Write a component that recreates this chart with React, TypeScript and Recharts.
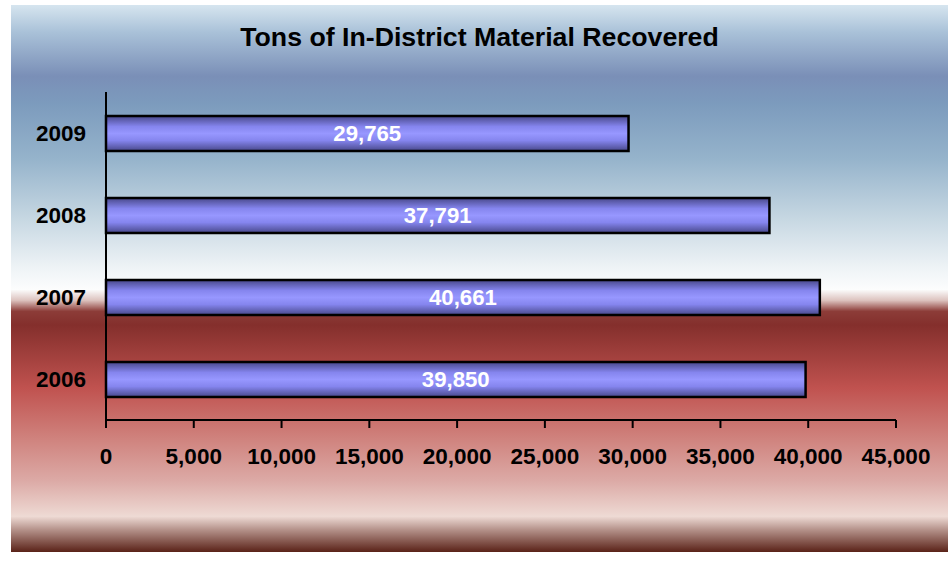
import { BarChart, Bar, XAxis, YAxis, LabelList } from 'recharts';

const years = ['2009', '2008', '2007', '2006'];
const tons = [29765, 37791, 40661, 39850];
const xTicks = [0, 5000, 10000, 15000, 20000, 25000, 30000, 35000, 40000, 45000];

const data = years.map((year, i) => ({ year, tons: tons[i] }));

const FONT = '"Liberation Sans", Arial, sans-serif';

const backdrop =
  'linear-gradient(to bottom, #d6e5ef 0%, #a9c1d8 5%, #7a8fb7 13%, #7c9bbd 18%, #95b3cb 28%, #c6d7e2 39%, #eef3f6 48%, #fcfdfd 52%, #dcc2be 54%, #8c3c38 56%, #842f2c 58.5%, #c0524f 70%, #cf817c 79%, #dcaaa6 87%, #eedad4 93.5%, #b39088 96%, #5a2218 100%)';

const fmt = (v: number) => v.toLocaleString('en-US');

export default function App() {
  return (
    <div style={{ position: 'absolute', left: 0, top: 0, width: 948, height: 563, fontFamily: FONT }}>
      <div style={{ position: 'absolute', left: 11, top: 5, width: 937, height: 547, background: backdrop }} />
      <div
        style={{
          position: 'absolute',
          left: 11,
          top: 24,
          width: 937,
          textAlign: 'center',
          fontSize: 26.7,
          lineHeight: '27px',
          fontWeight: 'bold',
          color: '#000',
        }}
      >
        Tons of In-District Material Recovered
      </div>
      <div style={{ position: 'absolute', left: 0, top: 0 }}>
        <BarChart
          width={948}
          height={563}
          data={data}
          layout="vertical"
          margin={{ top: 92, right: 52, bottom: 83, left: 0 }}
        >
          <defs>
            <linearGradient id="barFill" x1="0" y1="0" x2="0" y2="1">
              <stop offset="0%" stopColor="#48488a" />
              <stop offset="30%" stopColor="#8585ee" />
              <stop offset="50%" stopColor="#9797ff" />
              <stop offset="70%" stopColor="#8585ee" />
              <stop offset="100%" stopColor="#48488a" />
            </linearGradient>
          </defs>
          <XAxis
            type="number"
            domain={[0, 45000]}
            ticks={xTicks}
            interval={0}
            tickFormatter={fmt}
            height={60}
            axisLine={{ stroke: '#000', strokeWidth: 2 }}
            tickLine={{ stroke: '#000', strokeWidth: 2 }}
            tickSize={8}
            tickMargin={20}
            tick={{ fill: '#000', fontSize: 22.5, fontWeight: 'bold', fontFamily: FONT }}
          />
          <YAxis
            type="category"
            dataKey="year"
            width={106}
            axisLine={{ stroke: '#000', strokeWidth: 2 }}
            tickLine={false}
            tickSize={0}
            tickMargin={20}
            tick={{ fill: '#000', fontSize: 22.5, fontWeight: 'bold', fontFamily: FONT }}
          />
          <Bar
            dataKey="tons"
            fill="url(#barFill)"
            stroke="#000"
            strokeWidth={2.5}
            barSize={35}
            isAnimationActive={false}
          >
            <LabelList
              dataKey="tons"
              position="center"
              formatter={(v: any) => fmt(Number(v))}
              fill="#fff"
              style={{ fontSize: 22.2, fontWeight: 'bold', fontFamily: FONT }}
            />
          </Bar>
        </BarChart>
      </div>
    </div>
  );
}
